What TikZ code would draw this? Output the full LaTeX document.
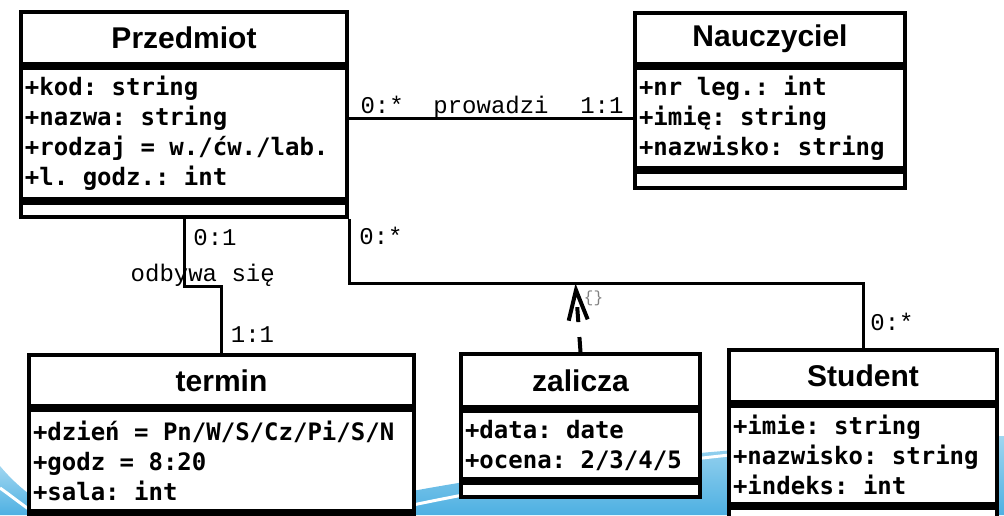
\documentclass[tikz,border=0pt]{standalone}
\usepackage{fontspec}
\setmainfont{Liberation Sans}
\newfontfamily\attrfont{DejaVu Sans Mono}
\newfontfamily\multfont{Liberation Mono}
\usetikzlibrary{positioning, calc, arrows.meta}

\definecolor{swooshblue}{RGB}{78,176,226}
\definecolor{swooshlight}{RGB}{160,214,240}

\tikzset{
	classname/.style={draw, fill=white, line width=2pt, inner sep=0pt, minimum height=26pt, font=\fontsize{15}{18}\selectfont\bfseries},
	classattr/.style={draw, fill=white, line width=2pt, inner xsep=2pt, inner ysep=0pt, align=left, font=\attrfont\bfseries\fontsize{12}{15}\selectfont,
		execute at begin node=\frenchspacing\spaceskip0pt\xspaceskip0pt\relax},
	classops/.style={draw, fill=white, line width=2pt, inner sep=0pt},
	assoc/.style={line width=1.5pt},
	mult/.style={font=\multfont\fontsize{12}{14}\selectfont, inner sep=0pt, anchor=base west},
}

\begin{document}
\begin{tikzpicture}[x=0.5pt, y=-0.5pt]
	\useasboundingbox (0,0) rectangle (1004,515);
	\clip (0,0) rectangle (1004,515);
	% background
	\shade[top color=swooshlight, bottom color=swooshblue] (0,466) .. controls (20,490) and (45,508) .. (70,515) -- (0,515) -- cycle;
	\shade[top color=swooshlight, bottom color=swooshblue] (300,515) .. controls (420,485) and (650,445) .. (1004,436) -- (1004,515) -- cycle;
	\draw[white, line width=1.5pt] (0,488) .. controls (10,495) and (20,503) .. (30,510);
	\draw[white, line width=1.5pt] (380,512) .. controls (480,490) and (620,465) .. (760,452);

	% Przedmiot
	\node[classname, minimum width=163pt, anchor=north west] (przedmiot) at (19,10) {Przedmiot};
	\node[classattr, text width=159pt, minimum height=65.5pt, below=0pt of przedmiot] (przedmiotAttr) {+kod: string\\+nazwa: string\\+rodzaj = w./ćw./lab.\\+l. godz.: int};
	\node[classops, minimum width=163pt, minimum height=7pt, below=0pt of przedmiotAttr] (przedmiotOps) {};

	% Nauczyciel
	\node[classname, minimum width=135pt, minimum height=25.5pt, anchor=north west] (nauczyciel) at (633,11) {Nauczyciel};
	\node[classattr, text width=131pt, minimum height=50pt, below=0pt of nauczyciel] (nauczycielAttr) {+nr leg.: int\\+imię: string\\+nazwisko: string};
	\node[classops, minimum width=135pt, minimum height=8pt, below=0pt of nauczycielAttr] (nauczycielOps) {};

	% termin
	\node[classname, minimum width=192.5pt, minimum height=25.5pt, anchor=north west] (termin) at (27,353) {termin};
	\node[classattr, text width=188.5pt, minimum height=50.5pt, below=0pt of termin] (terminAttr) {+dzień = Pn/W/S/Cz/Pi/S/N\\+godz = 8:20\\+sala: int};
	\node[classops, minimum width=192.5pt, minimum height=20pt, below=0pt of terminAttr] (terminOps) {};

	% zalicza
	\node[classname, minimum width=119.5pt, minimum height=26.5pt, anchor=north west] (zalicza) at (459,352) {zalicza};
	\node[classattr, text width=115.5pt, minimum height=34pt, below=0pt of zalicza] (zaliczaAttr) {+data: date\\+ocena: 2/3/4/5};
	\node[classops, minimum width=119.5pt, minimum height=7pt, below=0pt of zaliczaAttr] (zaliczaOps) {};

	% Student
	\node[classname, minimum width=134pt, anchor=north west] (student) at (727,348) {Student};
	\node[classattr, text width=130pt, minimum height=49pt, below=0pt of student] (studentAttr) {+imie: string\\+nazwisko: string\\+indeks: int};
	\node[classops, minimum width=134pt, minimum height=7pt, below=0pt of studentAttr] (studentOps) {};

	% prowadzi
	\draw[assoc] (nauczycielAttr.west -| przedmiotAttr.east) -- (nauczycielAttr.west)
		node[mult, pos=0, xshift=5pt, yshift=2.5pt] {0:*}
		node[mult, midway, anchor=base, yshift=2.5pt] {prowadzi}
		node[mult, pos=1, anchor=base east, xshift=-4pt, yshift=2.5pt] {1:1};

	% odbywa sie
	\coordinate (odb) at ($(przedmiotOps.south)!0.5!(termin.north)$);
	\draw[assoc] (przedmiotOps.south) |- (odb) -| (termin.north);
	\node[mult, xshift=4.5pt, yshift=-13pt] (m01) at (przedmiotOps.south) {0:1};
	\node[mult, anchor=base, yshift=2.5pt] (odbLbl) at (odb) {odbywa się};
	\node[mult, xshift=4.5pt, yshift=5.5pt] (m11) at (termin.north) {1:1};

	% zalicza
	\coordinate (zal) at ($(przedmiotOps.south east)!0.5!(student.north)$);
	\draw[assoc] (przedmiotOps.south east) |- (zal) -| (student.north);
	\node[mult, xshift=5pt, yshift=-12.5pt] (m0a) at (przedmiotOps.south east) {0:*};
	\node[mult, xshift=3.5pt, yshift=9pt] (m0b) at (student.north) {0:*};
	\coordinate (zalTip) at ($(zalicza.north |- zal)+(-5,0)$);
	\draw[line width=2pt, dash pattern=on 7.5pt off 7.5pt, -{Straight Barb[length=15pt, width=9.5pt, line width=2pt]}] (zalicza.north) -- (zalTip);
	\node[font=\multfont\fontsize{8}{9}\selectfont, text=gray, anchor=north west, inner sep=0pt] (zalLbl) at ($(zalTip)+(8,7)$) {\{\}};
\end{tikzpicture}
\end{document}
